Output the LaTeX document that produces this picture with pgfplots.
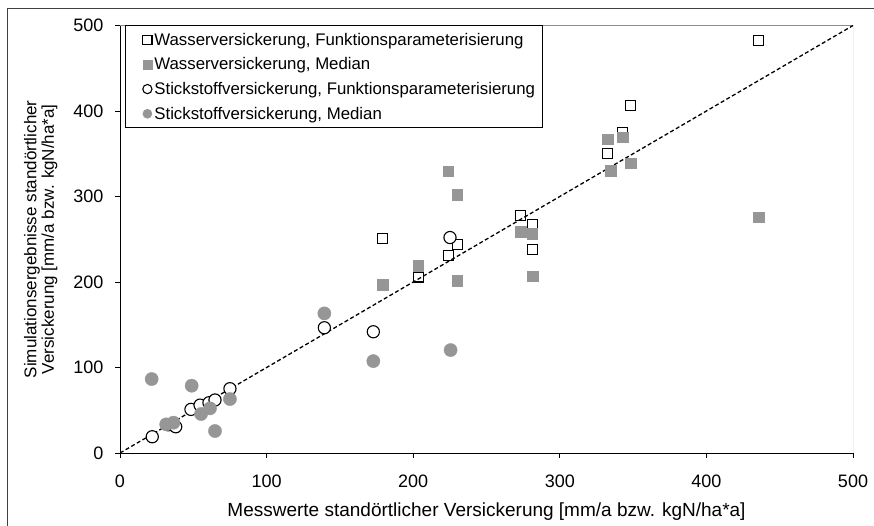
\documentclass[border=0pt]{standalone}
\usepackage{pgfplots}
\pgfplotsset{compat=1.18}
\usepackage{fontspec}
\setmainfont{Liberation Sans}
\definecolor{mgray}{RGB}{150,150,150}
\definecolor{bgray}{RGB}{140,140,140}
\begin{document}
\begin{tikzpicture}[x=1pt,y=1pt]
\path[use as bounding box] (0,0) rectangle (874,-526);
\draw[black!75, line width=1pt] (7,-526) -- (7,-9) -- (874,-9);
\begin{axis}[
  at={(120pt,-453pt)}, anchor=south west,
  scale only axis, width=733pt, height=427.5pt,
  xmin=0, xmax=500, ymin=0, ymax=500,
  xtick={0,100,...,500}, ytick={0,100,...,500},
  axis x line*=bottom, axis y line*=left,
  axis line style={-, black, line width=0.8pt},
  tick align=outside, major tick length=5pt,
  tick style={black, line width=0.8pt},
  /pgf/number format/assume math mode=true,
  ticklabel style={font=\fontsize{18}{21}\selectfont},
  yticklabel style={xshift=-8pt},
  xticklabel style={yshift=-13pt},
  xlabel={Messwerte standörtlicher Versickerung [mm/a bzw. kgN/ha*a]},
  xlabel style={font=\fontsize{19}{22}\selectfont, at={(axis description cs:0.5,-0.138)}, anchor=center},
  ylabel={Simulationsergebnisse standörtlicher\\Versickerung [mm/a bzw. kgN/ha*a]},
  ylabel style={font=\fontsize{17}{17.5}\selectfont, align=center, at={(axis description cs:-0.108,0.5)}, anchor=center},
  legend style={at={(axis description cs:0.0068,1)}, anchor=north west,
    draw=black, line width=0.8pt, fill=white, font=\fontsize{16.8}{19}\selectfont,
    row sep=7pt, inner xsep=5pt, inner ysep=5pt},
  legend image code/.code={\draw[mark repeat=2,mark phase=2,#1,draw=none,mark size=4.6pt] plot coordinates {(0pt,0pt) (17pt,0pt) (22pt,0pt)};},
  legend cell align=left,
]
\draw[bgray, line width=0.8pt] (axis cs:0,500) -- (axis cs:500,500) -- (axis cs:500,0);
\addplot[forget plot, black, line width=1.3pt, dash pattern=on 4pt off 2.5pt] coordinates {(0,0) (500,500)};
\addplot[draw=none, mark=square, mark size=5pt, mark options={draw=black, fill=white, line width=1.1pt}] coordinates {
(435.8,482.8) (348.3,406.7) (342.9,375) (332.7,350.8) (334.9,330.5)
(273.2,277.4) (281.3,267.6) (281.4,237.5) (179.2,250.8) (230.1,244)
(224,230.6) (203.5,205.8)
};
\addlegendentry{Wasserversickerung, Funktionsparameterisierung}
\addplot[draw=none, mark=square*, mark size=5.3pt, mark options={draw=mgray, fill=mgray, line width=0.4pt}] coordinates {
(435.8,276) (348.3,339) (342.9,369.2) (332.7,366.8) (334.9,330.5)
(273.2,258.8) (281.3,256.6) (281.4,206.8) (179.2,197) (230.1,302)
(224,329.8) (230.1,201.8) (203.5,218.8)
};
\addlegendentry{Wasserversickerung, Median}
\addplot[draw=none, mark=*, mark size=6.1pt, mark options={draw=black, fill=white, line width=1.1pt}] coordinates {
(22,19) (33,33) (38,30.7) (48.4,51) (54.6,56) (60.7,58.8) (64.8,62)
(75,75.2) (139.4,146.5) (172.8,141.8) (225.1,252)
};
\addlegendentry{Stickstoffversickerung, Funktionsparameterisierung}
\addplot[draw=none, mark=*, mark size=6.6pt, mark options={draw=mgray, fill=mgray, line width=0.4pt}] coordinates {
(21.6,86.5) (48.9,78.7) (31.5,33.5) (36.5,35.5) (55.3,45.6) (61.4,52.2)
(64.8,25.7) (75,63.1) (139.4,163.3) (172.8,107.5) (225.5,120.4)
};
\addlegendentry{Stickstoffversickerung, Median}
\end{axis}
\end{tikzpicture}
\end{document}
